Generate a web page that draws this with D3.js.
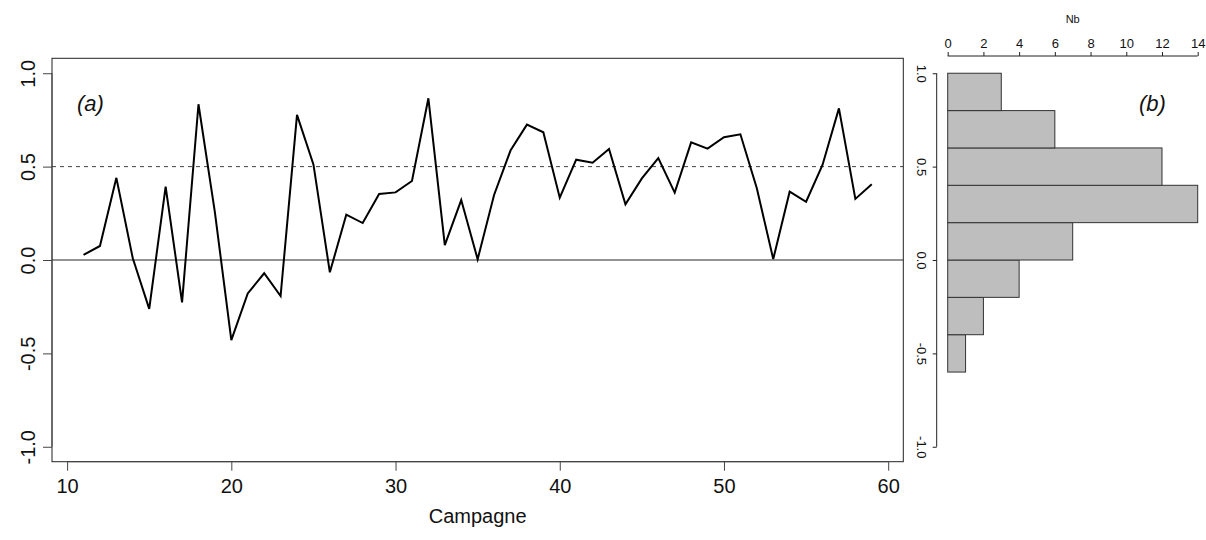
<!DOCTYPE html>
<html>
<head>
<meta charset="utf-8">
<script src="https://cdn.jsdelivr.net/npm/d3@7"></script>
<style>
  body { margin: 0; background: #fff; }
  svg { display: block; font-family: "Liberation Sans", Arial, Helvetica, sans-serif; }
</style>
</head>
<body>
<svg id="chart" width="1206" height="540"></svg>
<script>
// ---- data ----
const campagnes = d3.range(11, 60); // 11..59
const values = [
  0.028, 0.075, 0.440, 0.009, -0.262, 0.393, -0.227, 0.834, 0.255, -0.429,
  -0.179, -0.071, -0.193, 0.777, 0.512, -0.066, 0.243, 0.198, 0.354, 0.362,
  0.423, 0.866, 0.080, 0.321, 0.004, 0.348, 0.586, 0.725, 0.684, 0.334,
  0.537, 0.521, 0.594, 0.298, 0.437, 0.546, 0.361, 0.630, 0.596, 0.657,
  0.673, 0.384, 0.005, 0.366, 0.312, 0.509, 0.812, 0.327, 0.405
];
const histBreaks = [-0.6, -0.4, -0.2, 0.0, 0.2, 0.4, 0.6, 0.8, 1.0];
const histCounts = [1, 2, 4, 7, 14, 12, 6, 3];
const yTicks = [-1.0, -0.5, 0.0, 0.5, 1.0];
const xTicks = [10, 20, 30, 40, 50, 60];
const nbTicks = [0, 2, 4, 6, 8, 10, 12, 14];

const fmt1 = d => d3.format(".1f")(d).replace("\u2212", "-");
const svg = d3.select("#chart");
const FONT = "Liberation Sans, Arial, sans-serif";

// ---- panel (a) ----
const x = d3.scaleLinear().domain([9.08, 60.92]).range([52, 903.3]);
const y = d3.scaleLinear().domain([-1.08, 1.08]).range([461.7, 58.3]);

svg.append("line")
  .attr("x1", x.range()[0]).attr("x2", x.range()[1])
  .attr("y1", y(0)).attr("y2", y(0))
  .attr("stroke", "#707070").attr("stroke-width", 1.3);
svg.append("line")
  .attr("x1", x.range()[0]).attr("x2", x.range()[1])
  .attr("y1", y(0.5)).attr("y2", y(0.5))
  .attr("stroke", "#444").attr("stroke-width", 1).attr("stroke-dasharray", "4,4");

const line = d3.line().x((d, i) => x(campagnes[i])).y(d => y(d));
svg.append("path")
  .datum(values)
  .attr("d", line)
  .attr("fill", "none")
  .attr("stroke", "#000")
  .attr("stroke-width", 2)
  .attr("stroke-linejoin", "miter");

svg.append("rect")
  .attr("x", x.range()[0]).attr("y", y.range()[1])
  .attr("width", x.range()[1] - x.range()[0])
  .attr("height", y.range()[0] - y.range()[1])
  .attr("fill", "none").attr("stroke", "#222").attr("stroke-width", 1);

const gy = svg.append("g")
  .attr("transform", `translate(${x.range()[0]},0)`)
  .call(d3.axisLeft(y).tickValues(yTicks).tickSize(9).tickSizeOuter(0).tickFormat(fmt1));
gy.select(".domain").attr("d", `M0,${y(1)}V${y(-1)}`).attr("stroke", "#444");
gy.selectAll(".tick line").attr("stroke", "#444");
gy.selectAll("text")
  .attr("x", null).attr("dy", "0.35em")
  .attr("text-anchor", "middle")
  .attr("transform", "translate(-24,0) rotate(-90)")
  .attr("font-size", 20).attr("fill", "#111")
  .attr("font-family", FONT);

const gx = svg.append("g")
  .attr("transform", `translate(0,${y.range()[0]})`)
  .call(d3.axisBottom(x).tickValues(xTicks).tickSize(9).tickSizeOuter(0).tickPadding(8));
gx.select(".domain").attr("d", `M${x(10)},0H${x(60)}`).attr("stroke", "#444");
gx.selectAll(".tick line").attr("stroke", "#444");
gx.selectAll("text").attr("font-size", 20).attr("fill", "#111")
  .attr("font-family", FONT);

svg.append("text")
  .attr("x", (x.range()[0] + x.range()[1]) / 2).attr("y", 523)
  .attr("text-anchor", "middle").attr("font-size", 20).attr("fill", "#111")
  .text("Campagne");

svg.append("text")
  .attr("x", 77).attr("y", 111)
  .attr("font-size", 22).attr("font-style", "italic").attr("fill", "#111")
  .text("(a)");

// ---- panel (b) histogram ----
const xh = d3.scaleLinear().domain([0, 14]).range([947.7, 1197.7]);

svg.append("g").selectAll("rect")
  .data(histCounts)
  .join("rect")
  .attr("x", xh(0))
  .attr("y", (d, i) => y(histBreaks[i + 1]))
  .attr("width", d => xh(d) - xh(0))
  .attr("height", (d, i) => y(histBreaks[i]) - y(histBreaks[i + 1]))
  .attr("fill", "#bebebe")
  .attr("stroke", "#333")
  .attr("stroke-width", 1);

const gyh = svg.append("g")
  .attr("transform", "translate(936.7,0)")
  .call(d3.axisLeft(y).tickValues(yTicks).tickSize(4).tickSizeOuter(0).tickFormat(fmt1));
gyh.select(".domain").attr("d", `M0,${y(1)}V${y(-1)}`).attr("stroke", "#222");
gyh.selectAll(".tick line").attr("stroke", "#222");
gyh.selectAll("text")
  .attr("x", null).attr("dy", "0.35em")
  .attr("text-anchor", "middle")
  .attr("transform", "translate(-15,0) rotate(90)")
  .attr("font-size", 13).attr("fill", "#111")
  .attr("font-family", FONT);

const gxh = svg.append("g")
  .attr("transform", "translate(0,56)")
  .call(d3.axisTop(xh).tickValues(nbTicks).tickSize(4).tickSizeOuter(0).tickPadding(4));
gxh.select(".domain").attr("d", `M${xh(0)},0H${xh(14)}`).attr("stroke", "#222");
gxh.selectAll(".tick line").attr("stroke", "#222");
gxh.selectAll("text").attr("font-size", 13).attr("fill", "#111")
  .attr("font-family", FONT);

svg.append("text")
  .attr("x", (xh(0) + xh(14)) / 2).attr("y", 23)
  .attr("text-anchor", "middle").attr("font-size", 11).attr("fill", "#111")
  .text("Nb");

svg.append("text")
  .attr("x", 1139).attr("y", 111)
  .attr("font-size", 22).attr("font-style", "italic").attr("fill", "#111")
  .text("(b)");
</script>
</body>
</html>
